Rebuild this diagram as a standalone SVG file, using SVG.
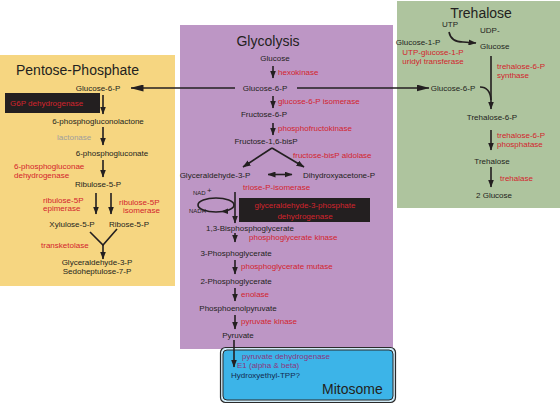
<svg xmlns="http://www.w3.org/2000/svg" width="560" height="404" viewBox="0 0 560 404">
<defs>
<marker id="ah" markerUnits="userSpaceOnUse" markerWidth="8" markerHeight="6" refX="7.5" refY="3" orient="auto"><path d="M0,0 L8,3 L0,6 z" fill="#231f20"/></marker>
<marker id="ahs" markerUnits="userSpaceOnUse" markerWidth="8" markerHeight="6" refX="0.5" refY="3" orient="auto"><path d="M8,0 L0,3 L8,6 z" fill="#231f20"/></marker>
<marker id="ahL" markerUnits="userSpaceOnUse" markerWidth="13" markerHeight="7" refX="12.5" refY="3.5" orient="auto"><path d="M0,0 L13,3.5 L0,7 z" fill="#231f20"/></marker>
<style>
text{font-family:"Liberation Sans",Arial,sans-serif;font-size:8px;fill:#231f20}
.t{font-size:14px}
.c{text-anchor:middle}
.r{fill:#d3242d}
.g{fill:#9e9e9e}
.m{fill:#8c357f}
.n{fill:#142a4f}
.s{font-size:6px}
.ln{stroke:#231f20;stroke-width:1.6;fill:none}
.a{stroke:#231f20;stroke-width:1.6;fill:none;marker-end:url(#ah)}
.box{fill:#231f20}
</style>
</defs>

<g id="pentose-phosphate">
<rect x="0" y="55" width="175" height="231" fill="#f6d681"/>
<text class="t" x="16" y="75">Pentose-Phosphate</text>
<text class="c" x="98" y="91">Glucose-6-P</text>
<rect class="box" x="5" y="93" width="95" height="20"/>
<text class="r" x="10" y="106">G6P dehydrogenase</text>
<text class="c" x="98" y="124">6-phosphogluconolactone</text>
<text class="g" x="57" y="140">lactonase</text>
<text class="c" x="112" y="156">6-phosphogluconate</text>
<text class="r" x="14" y="169">6-phosphogluconae</text>
<text class="r" x="14" y="178">dehydrogenase</text>
<text class="c" x="98" y="187">Ribulose-5-P</text>
<text class="r" x="43" y="203">ribulose-5P</text>
<text class="r" x="43" y="211">epimerase</text>
<text class="r" x="119" y="205">ribulose-5P</text>
<text class="r" x="123" y="213">isomerase</text>
<text class="c" x="72" y="227">Xylulose-5-P</text>
<text class="c" x="129" y="227">Ribose-5-P</text>
<text class="r" x="41" y="248">transketolase</text>
<text class="c" x="97" y="265">Glyceraldehyde-3-P</text>
<text class="c" x="97" y="274">Sedoheptulose-7-P</text>
</g>

<g id="glycolysis">
<rect x="180" y="25" width="213" height="324" fill="#bd96c5"/>
<text class="t c" x="268" y="46">Glycolysis</text>
<text class="c" x="275" y="61">Glucose</text>
<text class="r" x="278" y="75">hexokinase</text>
<text class="c" x="265" y="91">Glucose-6-P</text>
<text class="r" x="278" y="104">glucose-6-P isomerase</text>
<text class="c" x="264" y="117">Fructose-6-P</text>
<text class="r" x="278" y="131">phosphofructokinase</text>
<text class="c" x="266" y="144">Fructose-1,6-bisP</text>
<text class="r" x="293" y="158">fructose-bisP aldolase</text>
<text class="c" x="215" y="178">Glyceraldehyde-3-P</text>
<text x="303" y="178">Dihydroxyacetone-P</text>
<text class="r" x="243" y="190">triose-P-isomerase</text>
<text class="s" x="193" y="195">NAD</text>
<text x="207" y="193">+</text>
<text class="s" x="189" y="213">NADH</text>
<rect class="box" x="239" y="198" width="131" height="24"/>
<text class="r c" x="305" y="208">glyceraldehyde-3-phosphate</text>
<text class="r c" x="305" y="219">dehydrogenase</text>
<text class="c" x="250" y="231">1,3-Bisphosphoglycerate</text>
<text class="r" x="249" y="240">phosphoglycerate kinase</text>
<text class="c" x="236" y="256">3-Phosphoglycerate</text>
<text class="r" x="241" y="269">phosphoglycerate mutase</text>
<text class="c" x="236" y="284">2-Phosphoglycerate</text>
<text class="r" x="241" y="297">enolase</text>
<text class="c" x="238" y="311">Phosphoenolpyruvate</text>
<text class="r" x="241" y="324">pyruvate kinase</text>
<text class="c" x="238" y="338">Pyruvate</text>
</g>

<g id="trehalose">
<rect x="397" y="1" width="163" height="207" fill="#aec49e"/>
<text class="t c" x="481" y="18">Trehalose</text>
<text class="c" x="450" y="27">UTP</text>
<text class="c" x="418" y="45">Glucose-1-P</text>
<text x="480" y="33">UDP-</text>
<text x="480" y="49">Glucose</text>
<text class="r c" x="433" y="55">UTP-glucose-1-P</text>
<text class="r c" x="433" y="64">uridyl transferase</text>
<text class="r" x="497" y="69">trehalose-6-P</text>
<text class="r" x="497" y="78">synthase</text>
<text class="c" x="453" y="91">Glucose-6-P</text>
<text class="c" x="492" y="120">Trehalose-6-P</text>
<text class="r" x="497" y="138">trehalose-6-P</text>
<text class="r" x="497" y="147">phosphatase</text>
<text class="c" x="492" y="164">Trehalose</text>
<text class="r" x="500" y="181">trehalase</text>
<text class="c" x="494" y="198">2 Glucose</text>
</g>

<g id="mitosome">
<rect x="220.5" y="347.5" width="175" height="55" rx="5" fill="#cfe9f5" stroke="#2a2a2a" stroke-width="1.2"/>
<rect x="223" y="350" width="170" height="50" rx="4" fill="#3cb4e8" stroke="#2a2a2a" stroke-width="1"/>
<text class="m" x="242" y="359">pyruvate dehydrogenase</text>
<text class="m" x="237" y="368">E1 (alpha &amp; beta)</text>
<text class="n" x="231" y="378">Hydroxyethyl-TPP?</text>
<text class="t" x="322" y="394">Mitosome</text>
</g>

<g id="connectors">
<!-- cross-pathway Glucose-6-P -->
<line x1="235" y1="88" x2="131" y2="88" stroke="#231f20" stroke-width="1.6" marker-end="url(#ahL)"/>
<line x1="297" y1="88" x2="429" y2="88" stroke="#231f20" stroke-width="1.6" marker-end="url(#ahL)"/>
<!-- pentose -->
<line class="a" x1="103" y1="95" x2="103" y2="114"/>
<line class="a" x1="103" y1="127" x2="103" y2="145"/>
<line class="a" x1="103" y1="160" x2="103" y2="177"/>
<line class="a" x1="96" y1="193" x2="96" y2="214"/>
<line class="a" x1="111" y1="193" x2="111" y2="214"/>
<path class="ln" d="M90,232 L103,245 L117,229"/>
<line class="a" x1="103" y1="244" x2="103" y2="259"/>
<!-- glycolysis -->
<line class="a" x1="273" y1="66" x2="273" y2="78"/>
<line class="a" x1="273" y1="96" x2="273" y2="108"/>
<line class="a" x1="273" y1="123" x2="273" y2="135"/>
<line class="a" x1="272" y1="148" x2="243" y2="167"/>
<line class="a" x1="272" y1="148" x2="304" y2="167"/>
<line stroke="#231f20" stroke-width="1.6" x1="268" y1="174.5" x2="292" y2="174.5" marker-start="url(#ahs)" marker-end="url(#ah)"/>
<ellipse class="ln" cx="216" cy="205" rx="18" ry="7"/>
<path d="M221,211.5 L228,208.5 L228,214 z" fill="#231f20"/>
<line class="a" x1="235" y1="192" x2="235" y2="223"/>
<line class="a" x1="235" y1="233" x2="235" y2="242"/>
<line class="a" x1="235" y1="260" x2="235" y2="274"/>
<line class="a" x1="235" y1="288" x2="235" y2="301"/>
<line class="a" x1="235" y1="315" x2="235" y2="329"/>
<line class="a" x1="234" y1="340" x2="234" y2="367"/>
<!-- trehalose -->
<path class="ln" d="M449,32 Q451,42 463,42 L476,43" marker-end="url(#ah)"/>
<path class="ln" d="M491,56 L491,109" marker-end="url(#ah)"/>
<path class="ln" d="M480,87 Q490,87 491,100"/>
<line class="a" x1="491" y1="130" x2="491" y2="150"/>
<line class="a" x1="491" y1="167" x2="491" y2="187"/>
</g>
</svg>
